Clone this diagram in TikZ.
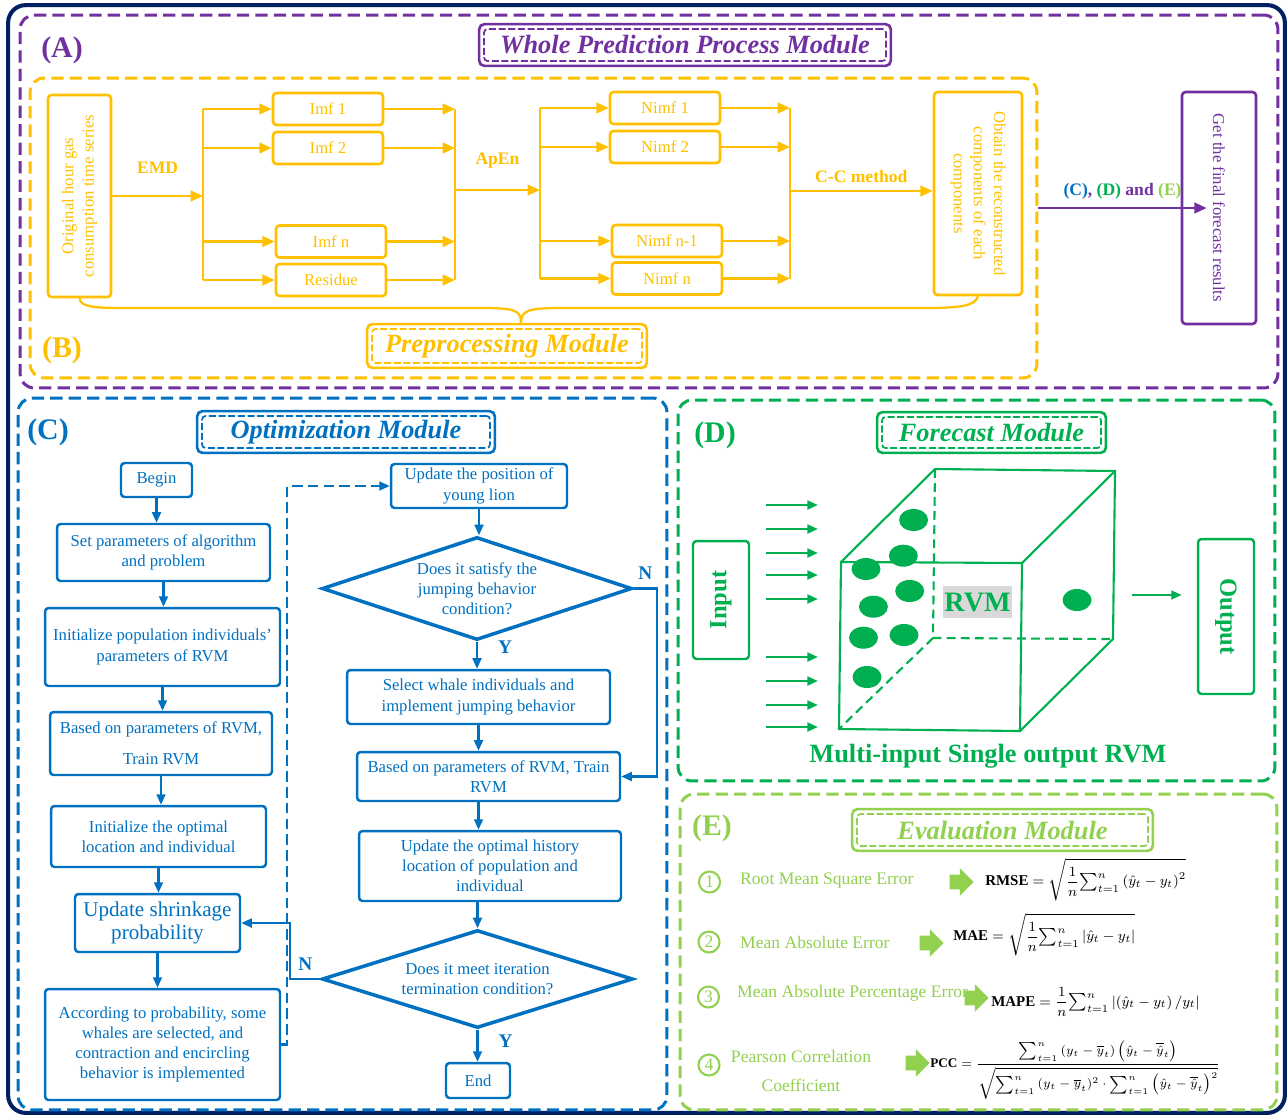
\documentclass[tikz,border=0pt]{standalone}
\usepackage{fontspec}
\setmainfont{Liberation Serif}
\usetikzlibrary{arrows.meta,shapes.geometric,shapes.arrows}
\definecolor{navyframe}{HTML}{002060}
\definecolor{purpleA}{HTML}{7030A0}
\definecolor{orangeB}{HTML}{FFC000}
\definecolor{blueC}{HTML}{0070C0}
\definecolor{greenD}{HTML}{00B050}
\definecolor{greenE}{HTML}{92D050}
\definecolor{grayRVM}{HTML}{D9D9D9}

\begin{document}
\begin{tikzpicture}[x=0.02cm, y=-0.02cm]
    \tikzstyle{frame_style} = [draw, rounded corners=8pt, line width=1.7pt, dash pattern=on 7pt off 3.5pt]
    \tikzstyle{title_style} = [draw, rounded corners=2pt, line width=1pt, dash pattern=on 4pt off 1.5pt, inner sep=0pt, font=\fontsize{15}{18}\selectfont\bfseries\itshape]
    \tikzstyle{title_outer} = [rounded corners=3pt, line width=1.5pt]
    \tikzstyle{letter_style} = [font=\fontsize{17}{20}\selectfont\bfseries]
    \tikzstyle{box_style} = [draw, rounded corners=2pt, line width=1.4pt, align=center, inner sep=1pt, font=\fontsize{9.5}{11.5}\selectfont]
    \tikzstyle{pre_box} = [box_style, draw=orangeB, text=orangeB, line width=1.5pt, minimum width=2.2cm, minimum height=0.64cm]
    \tikzstyle{pre_line} = [draw=orangeB, line width=1.3pt]
    \tikzstyle{pre_arrow} = [pre_line, -{Triangle[length=7pt,width=6pt]}]
    \tikzstyle{pre_label} = [text=orangeB, font=\fontsize{10}{12}\selectfont\bfseries]
    \tikzstyle{opt_box} = [box_style, draw=blueC, text=blueC]
    \tikzstyle{opt_diamond} = [draw=blueC, text=blueC, diamond, aspect=3, line width=2pt, align=center, inner sep=0pt, font=\fontsize{9.5}{11.5}\selectfont]
    \tikzstyle{opt_arrow} = [draw=blueC, line width=1.3pt, -{Triangle[length=6pt,width=5pt]}]
    \tikzstyle{yn_style} = [text=blueC, font=\fontsize{11}{13}\selectfont\bfseries]
    \tikzstyle{fc_box} = [box_style, draw=greenD, text=greenD, font=\fontsize{14}{16}\selectfont\bfseries]
    \tikzstyle{fc_arrow} = [draw=greenD, line width=1.3pt, -{Triangle[length=6pt,width=5pt]}]
    \tikzstyle{cube_line} = [draw=greenD, line width=1.2pt]
    \tikzstyle{num_style} = [circle, draw=greenE, text=greenE, line width=1.2pt, inner sep=0pt, minimum size=0.42cm, font=\fontsize{10}{12}\selectfont]
    \tikzstyle{eval_text} = [text=greenE, align=center, font=\fontsize{10}{12}\selectfont]
    \tikzstyle{block_arrow} = [single arrow, fill=greenE, inner sep=4pt, minimum height=0.48cm, single arrow head extend=3.7pt]
    \tikzstyle{formula_style} = [anchor=west, inner sep=0pt, font=\fontsize{8.5}{10}\selectfont]

    \useasboundingbox (0,0) rectangle (1288,1117);

    \node[frame_style, draw=navyframe, solid, line width=2.3pt, rounded corners=10pt, minimum width=25.54cm, minimum height=22.16cm] (outer) at (646.5,559) {};
    \node[frame_style, draw=purpleA, minimum width=25.16cm, minimum height=7.46cm] (frameA) at (649,201.5) {};
    \node[frame_style, draw=orangeB, minimum width=20.14cm, minimum height=6cm] (frameB) at (533.5,228) {};
    \node[frame_style, draw=blueC, minimum width=12.98cm, minimum height=14.24cm] (frameC) at (342.5,754) {};
    \node[frame_style, draw=greenD, minimum width=11.94cm, minimum height=7.62cm] (frameD) at (976.5,590.5) {};
    \node[frame_style, draw=greenE, minimum width=11.94cm, minimum height=6.32cm] (frameE) at (978.5,952) {};

    \node[title_style, draw=purpleA, text=purpleA, minimum width=8.04cm, minimum height=0.64cm] (titleA) at (685,45) {Whole Prediction Process Module};
    \node[title_style, draw=orangeB, text=orangeB, minimum width=5.4cm, minimum height=0.68cm] (titleB) at (507,346) {Preprocessing Module};
    \node[title_style, draw=blueC, text=blueC, minimum width=5.76cm, minimum height=0.64cm] (titleC) at (346,432) {Optimization Module};
    \node[title_style, draw=greenD, text=greenD, minimum width=4.38cm, minimum height=0.62cm] (titleD) at (991.5,432.5) {Forecast Module};
    \node[title_style, draw=greenE, text=greenE, minimum width=5.82cm, minimum height=0.64cm] (titleE) at (1002.5,830) {Evaluation Module};
    \foreach \t/\c in {titleA/purpleA, titleB/orangeB, titleC/blueC, titleD/greenD, titleE/greenE}
        \draw[title_outer, draw=\c] ([shift={(-4,-4)}]\t.north west) rectangle ([shift={(4,4)}]\t.south east);

    \node[letter_style, text=purpleA] (letA) at (62,50) {(A)};
    \node[letter_style, text=orangeB] (letB) at (62,350) {(B)};
    \node[letter_style, text=blueC] (letC) at (48,432) {(C)};
    \node[letter_style, text=greenD] (letD) at (715,435) {(D)};
    \node[letter_style, text=greenE] (letE) at (712,828) {(E)};

    \node[pre_box, minimum width=1.26cm, minimum height=4.04cm] (orig) at (79.5,196) {\rotatebox{90}{\begin{tabular}{@{}c@{}}Original hour gas\\consumption time series\end{tabular}}};
    \node[pre_box] (imf1) at (328,109) {Imf 1};
    \node[pre_box] (imf2) at (328,148) {Imf 2};
    \node[pre_box] (imfn) at (331,241.5) {Imf n};
    \node[pre_box] (res) at (331,280) {Residue};
    \node[pre_box] (nimf1) at (665,108) {Nimf 1};
    \node[pre_box] (nimf2) at (665,147) {Nimf 2};
    \node[pre_box] (nimfn1) at (667,241) {Nimf n-1};
    \node[pre_box] (nimfn) at (667,278.5) {Nimf n};
    \node[pre_box, minimum width=1.76cm, minimum height=4.06cm] (obtain) at (978,193.5) {\rotatebox{-90}{\begin{tabular}{@{}c@{}}Obtain the reconstructed\\components of each\\components\end{tabular}}};
    \node[box_style, draw=purpleA, text=purpleA, line width=1.5pt, minimum width=1.48cm, minimum height=4.64cm] (get) at (1219,208) {\rotatebox{-90}{Get the final forecast results}};

    \coordinate (split1) at (203,196);
    \coordinate (join1) at (455,190);
    \coordinate (split2) at (540,190);
    \coordinate (join2) at (790,191);
    \coordinate (brace_tip) at (521,323);

    \draw[pre_arrow] (orig) -- (split1) node[midway, above=0.3cm, pre_label] {EMD};
    \draw[pre_line] (imf1 -| split1) -- (res -| split1);
    \foreach \b in {imf1, imf2, imfn, res} {
        \draw[pre_arrow] (\b -| split1) -- (\b);
        \draw[pre_arrow] (\b) -- (\b -| join1);
    }
    \draw[pre_line] (imf1 -| join1) -- (res -| join1);
    \draw[pre_arrow] (join1) -- (split2) node[midway, above=0.3cm, pre_label] {ApEn};
    \draw[pre_line] (nimf1 -| split2) -- (nimfn -| split2);
    \foreach \b in {nimf1, nimf2, nimfn1, nimfn} {
        \draw[pre_arrow] (\b -| split2) -- (\b);
        \draw[pre_arrow] (\b) -- (\b -| join2);
    }
    \draw[pre_line] (nimf1 -| join2) -- (nimfn -| join2);
    \draw[pre_arrow] (join2) -- (join2 -| obtain.west) node[midway, above=1pt, pre_label] {C-C method};
    \draw[pre_line] (orig.south) .. controls (80,308) and (100,308) .. (130,308) -- (480,308) .. controls (515,308) and (521,310) .. (brace_tip);
    \draw[pre_line] (obtain.south) .. controls (975,306) and (960,308) .. (925,308) -- (565,308) .. controls (528,308) and (521,310) .. (brace_tip);
    \draw[draw=purpleA, line width=1.5pt, -{Triangle[length=7pt,width=6pt]}] (frameB.east |- get) -- ([xshift=0.52cm]get.west) node[midway, above=1pt, text=purpleA, font=\fontsize{10}{12}\selectfont\bfseries] {\textcolor{blueC}{(C)}, \textcolor{greenD}{(D)} and \textcolor{greenE}{(E)}};

    \node[opt_box, minimum width=1.42cm, minimum height=0.68cm] (begin) at (156.5,480) {Begin};
    \node[opt_box, minimum width=4.26cm, minimum height=1.14cm] (setp) at (163.5,552.5) {Set parameters of algorithm\\and problem};
    \node[opt_box, minimum width=4.7cm, minimum height=1.56cm] (initpop) at (162.5,647) {Initialize population individuals’\\parameters of RVM};
    \node[opt_box, minimum width=4.44cm, minimum height=1.26cm] (basedL) at (161,743.5) {Based on parameters of RVM,\\[6pt]Train RVM};
    \node[opt_box, minimum width=4.3cm, minimum height=1.22cm] (initopt) at (158.5,836.5) {Initialize the optimal\\location and individual};
    \node[opt_box, minimum width=3.3cm, minimum height=1.16cm, font=\fontsize{12}{13}\selectfont] (shrink) at (157.5,923) {Update shrinkage\\probability};
    \node[opt_box, minimum width=4.7cm, minimum height=2.22cm] (accord) at (162.5,1044.5) {According to probability, some\\whales are selected, and\\contraction and encircling\\behavior is implemented};
    \node[opt_box, minimum width=3.52cm, minimum height=0.88cm] (updpos) at (479,486) {Update the position of\\young lion};
    \node[opt_diamond, minimum width=6.2cm, minimum height=2.06cm] (dia1) at (477,588.5) {Does it satisfy the\\jumping behavior\\condition?};
    \node[opt_box, minimum width=5.26cm, minimum height=1.08cm] (select) at (478.5,697) {Select whale individuals and\\implement jumping behavior};
    \node[opt_box, minimum width=5.26cm, minimum height=0.98cm] (basedR) at (488.5,776.5) {Based on parameters of RVM, Train\\RVM};
    \node[opt_box, minimum width=5.24cm, minimum height=1.4cm] (updopt) at (490,866) {Update the optimal history\\location of population and\\individual};
    \node[opt_diamond, minimum width=6.22cm, minimum height=1.96cm] (dia2) at (477.5,979) {Does it meet iteration\\termination condition?};
    \node[opt_box, minimum width=1.28cm, minimum height=0.7cm] (endn) at (478,1080.5) {End};

    \foreach \a/\b in {begin/setp, setp/initpop, initpop/basedL, basedL/initopt, initopt/shrink, shrink/accord}
        \draw[opt_arrow] (\a.south) -- (\a.south |- \b.north);
    \draw[opt_arrow] (updpos.south) -- (updpos.south |- dia1.north);
    \draw[opt_arrow] (dia1.south) -- (dia1.south |- select.north) node[pos=0.2, right=8pt, yn_style] {Y};
    \draw[opt_arrow] (select.south) -- (select.south |- basedR.north);
    \draw[opt_arrow] (select.south |- basedR.south) -- (select.south |- updopt.north);
    \draw[opt_arrow] (dia2.north |- updopt.south) -- (dia2.north);
    \draw[opt_arrow] (dia2.south) -- (dia2.south |- endn.north) node[pos=0.35, right=8pt, yn_style] {Y};
    \draw[opt_arrow] (dia1.east) -- ++(23,0) node[midway, above=1pt, yn_style] {N} |- (basedR.east);
    \draw[opt_arrow] (dia2.west) -- ++(-30,0) node[midway, above=1pt, yn_style] {N} |- (shrink.east);
    \draw[opt_arrow, dash pattern=on 6pt off 3pt] (accord.east) -- ++(6,0) |- (updpos.west);

    \node[fc_box, minimum width=1.12cm, minimum height=2.36cm] (input) at (721,600) {\rotatebox{90}{Input}};
    \node[fc_box, minimum width=1.12cm, minimum height=3.1cm] (output) at (1226,616.5) {\rotatebox{-90}{Output}};
    \foreach \y in {505,529,553,575,599,657,681,705,727}
        \draw[fc_arrow] (766,\y) -- (818,\y);

    \coordinate (f_tl) at (841,562);
    \coordinate (f_tr) at (1022,563);
    \coordinate (f_br) at (1020,731);
    \coordinate (f_bl) at (839,729);
    \coordinate (b_tl) at (935,469);
    \coordinate (b_tr) at (1115,471);
    \coordinate (b_br) at (1113,639);
    \coordinate (b_bl) at (933,638);
    \draw[cube_line, dash pattern=on 5pt off 3pt] (b_tl) -- (b_bl) -- (b_br);
    \draw[cube_line, dash pattern=on 5pt off 3pt] (b_bl) -- (f_bl);
    \draw[cube_line] (f_tl) -- (f_tr) -- (f_br) -- (f_bl) -- cycle;
    \draw[cube_line] (f_tl) -- (b_tl) -- (b_tr) -- (b_br) -- (f_br);
    \draw[cube_line] (f_tr) -- (b_tr);
    \foreach \x/\y in {913.6/520, 903.3/555.7, 866/569, 909.7/591, 873.4/606.7, 863.5/637.7, 904/635, 867/677, 1077/600}
        \fill[greenD] (\x,\y) ellipse [x radius=0.29cm, y radius=0.22cm];
    \node[fill=grayRVM, text=greenD, font=\fontsize{16}{18}\selectfont\bfseries, inner sep=1pt, minimum width=1.34cm, minimum height=0.64cm] (rvm) at (977.5,602) {RVM};
    \coordinate (cube_out) at (1132,595);
    \draw[fc_arrow, shorten >=0.3cm] (cube_out) -- (output.west |- cube_out);
    \node[text=greenD, font=\fontsize{15}{18}\selectfont\bfseries] (mrvm) at (988,756) {Multi-input Single output RVM};

    \node[num_style] (num1) at (709.5,882) {1};
    \node[num_style] (num2) at (709,942) {2};
    \node[num_style] (num3) at (708.5,997) {3};
    \node[num_style] (num4) at (709,1065) {4};
    \node[eval_text, anchor=west] (err1) at (734,881) {Root Mean Square Error};
    \node[eval_text, anchor=west] (err2) at (734,942) {Mean Absolute Error};
    \node[eval_text, anchor=west] (err3) at (731,993) {Mean Absolute Percentage Error};
    \node[eval_text] (err4) at (801,1071) {Pearson Correlation\\[4pt]Coefficient};
    \node[block_arrow] (arr1) at (958,882) {};
    \node[block_arrow] (arr2) at (928,943) {};
    \node[block_arrow] (arr3) at (973,998) {};
    \node[block_arrow] (arr4) at (914,1063) {};
    \node[formula_style] (rmse) at (985,880) {$\displaystyle\mathbf{RMSE}=\sqrt{\frac{1}{n}{\textstyle\sum_{t=1}^{n}}\left(\hat{y}_t-y_t\right)^2}$};
    \node[formula_style] (mae) at (953,935) {$\displaystyle\mathbf{MAE}=\sqrt{\frac{1}{n}{\textstyle\sum_{t=1}^{n}}\left|\hat{y}_t-y_t\right|}$};
    \node[formula_style] (mape) at (991,1002) {$\displaystyle\mathbf{MAPE}=\frac{1}{n}{\textstyle\sum_{t=1}^{n}}\left|\left(\hat{y}_t-y_t\right)/y_t\right|$};
    \node[formula_style, font=\fontsize{7.5}{9}\selectfont] (pcc) at (930,1070) {$\displaystyle\mathbf{PCC}=\frac{\sum_{t=1}^{n}\left(y_t-\overline{y}_t\right)\left(\hat{y}_t-\overline{\hat{y}}_t\right)}{\sqrt{\sum_{t=1}^{n}\left(y_t-\overline{y}_t\right)^2\cdot\sum_{t=1}^{n}\left(\hat{y}_t-\overline{\hat{y}}_t\right)^2}}$};
\end{tikzpicture}
\end{document}
